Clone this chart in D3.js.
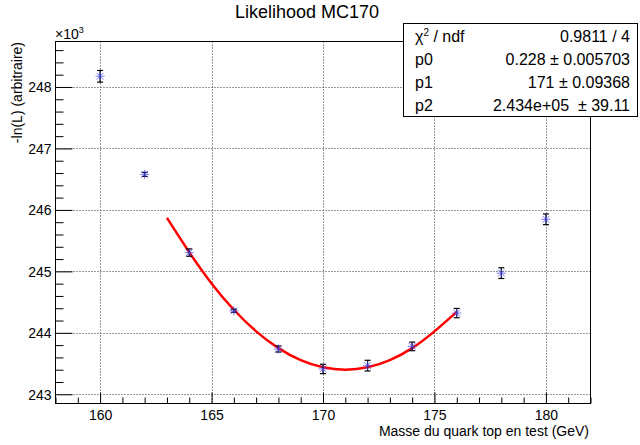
<!DOCTYPE html>
<html><head><meta charset="utf-8">
<script src="https://cdn.jsdelivr.net/npm/d3@7"></script>
<style>body{margin:0;background:#fff;}svg{display:block;font-family:"Liberation Sans",Arial,sans-serif;}</style>
</head><body>
<svg id="c" width="640" height="445"></svg>
<script>
const massX = [160, 162, 164, 166, 168, 170, 172, 174, 176, 178, 180];
const likelihoodY = [248174, 246578, 245305, 244359, 243737, 243412, 243466, 243779, 244321, 244971, 245847];
const likelihoodErr = [95, 33, 60, 25, 50, 76, 87, 70, 76, 87, 87];
const fitX = [163, 164, 165, 166, 167, 168, 169, 170, 171, 172, 173, 174, 175, 176];
const fitY = [245870, 245311, 244804, 244375, 244024, 243751, 243556, 243439, 243400, 243439, 243556, 243751, 244024, 244340];
const xTicks = [160, 165, 170, 175, 180];
const yTicks = [243000, 244000, 245000, 246000, 247000, 248000];
const statLabels = ["χ² / ndf", "p0", "p1", "p2"];
const statValues = ["0.9811 / 4", "0.228 ± 0.005703", "171 ± 0.09368", "2.434e+05  ± 39.11"];

const svg = d3.select("#c");
const L = 55.5, R = 590.5, T = 41.5, B = 403.5;
const x = d3.scaleLinear().domain([158, 182]).range([L, R]);
const y = d3.scaleLinear().domain([242850, 248740]).range([B, T]);

// grid
const g = svg.append("g");
g.selectAll(".gx").data(xTicks).join("line")
  .attr("x1", d => Math.round(x(d)) + 0.5).attr("x2", d => Math.round(x(d)) + 0.5)
  .attr("y1", T).attr("y2", B)
  .attr("stroke", "#333").attr("stroke-width", 1).attr("stroke-dasharray", "1,2");
g.selectAll(".gy").data(yTicks).join("line")
  .attr("y1", d => Math.round(y(d)) + 0.5).attr("y2", d => Math.round(y(d)) + 0.5)
  .attr("x1", L).attr("x2", R)
  .attr("stroke", "#333").attr("stroke-width", 1).attr("stroke-dasharray", "1,2");

// axes
const xAxis = d3.axisBottom(x).tickValues(d3.range(158, 183, 1))
  .tickSize(0).tickFormat("");
const ax = svg.append("g").attr("transform", `translate(0,${B})`);
ax.call(xAxis); ax.select(".domain").remove();
ax.selectAll(".tick line").remove();
ax.selectAll(".tick").append("line")
  .attr("y1", 0).attr("y2", d => xTicks.includes(d) ? -11 : -6)
  .attr("stroke", "#000");
ax.selectAll(".tick").filter(d => xTicks.includes(d)).append("text")
  .attr("y", 16).attr("fill", "#000").attr("font-size", 14).attr("text-anchor", "middle")
  .text(d => d);

const yMinor = d3.range(243000, 248800, 200);
const ay = svg.append("g").attr("transform", `translate(${L},0)`);
ay.call(d3.axisLeft(y).tickValues(yMinor).tickSize(0).tickFormat(""));
ay.select(".domain").remove();
ay.selectAll(".tick line").remove();
ay.selectAll(".tick").append("line")
  .attr("x1", 0).attr("x2", d => yTicks.includes(d) ? 17 : 8)
  .attr("stroke", "#000");
ay.selectAll(".tick").filter(d => yTicks.includes(d)).append("text")
  .attr("x", -4).attr("dy", "0.35em").attr("fill", "#000").attr("font-size", 14).attr("text-anchor", "end")
  .text(d => d / 1000);

// frame
svg.append("rect").attr("x", L).attr("y", T).attr("width", R - L).attr("height", B - T)
  .attr("fill", "none").attr("stroke", "#000").attr("stroke-width", 1);

// fit curve
svg.append("path").datum(fitX.map((d, i) => [d, fitY[i]]))
  .attr("d", d3.line().x(d => x(d[0])).y(d => y(d[1])).curve(d3.curveNatural))
  .attr("fill", "none").attr("stroke", "#ff0000").attr("stroke-width", 2.5);

// error bars
const pts = massX.map((d, i) => ({x: d, y: likelihoodY[i], e: likelihoodErr[i]}));
const eb = svg.append("g");
pts.forEach(p => {
  const cx = x(p.x), y1 = y(p.y + p.e), y2 = y(p.y - p.e);
  eb.append("line").attr("x1", cx).attr("x2", cx).attr("y1", y1).attr("y2", y2).attr("stroke", "#000").attr("stroke-width", 1.2);
  eb.append("line").attr("x1", cx - 3).attr("x2", cx + 3).attr("y1", y1).attr("y2", y1).attr("stroke", "#000").attr("stroke-width", 1.2);
  eb.append("line").attr("x1", cx - 3).attr("x2", cx + 3).attr("y1", y2).attr("y2", y2).attr("stroke", "#000").attr("stroke-width", 1.2);
});
// star markers
const mk = svg.append("g");
pts.forEach(p => {
  const cx = x(p.x), cy = y(p.y), s = 4.5;
  const segs = [[-s, 0, s, 0], [0, -s, 0, s], [-s*0.75, -s*0.75, s*0.75, s*0.75], [-s*0.75, s*0.75, s*0.75, -s*0.75]];
  segs.forEach(q => mk.append("line")
    .attr("x1", cx + q[0]).attr("y1", cy + q[1]).attr("x2", cx + q[2]).attr("y2", cy + q[3])
    .attr("stroke", "#4444ee").attr("stroke-width", 1).attr("opacity", 0.7));
});

// titles
svg.append("text").attr("x", 307).attr("y", 18).attr("text-anchor", "middle")
  .attr("font-size", 18).text("Likelihood MC170");
svg.append("text").attr("x", 589).attr("y", 436).attr("text-anchor", "end")
  .attr("font-size", 14).text("Masse du quark top en test (GeV)");
svg.append("text").attr("transform", "translate(22,42) rotate(-90)").attr("text-anchor", "end")
  .attr("font-size", 14).text("-ln(L) (arbitraire)");
const mult = svg.append("text").attr("x", 55).attr("y", 39).attr("font-size", 14);
mult.append("tspan").text("×10");
mult.append("tspan").attr("dy", -6).attr("font-size", 9).text("3");

// stat box
svg.append("rect").attr("x", 403.5).attr("y", 23.5).attr("width", 234).attr("height", 93)
  .attr("fill", "#fff").attr("stroke", "#000").attr("stroke-width", 1);
statLabels.forEach((t, i) => {
  const by = 42 + i * 23;
  const tl = svg.append("text").attr("x", 415).attr("y", by).attr("font-size", 16);
  if (i === 0) {
    tl.append("tspan").text("χ");
    tl.append("tspan").attr("dy", -6).attr("font-size", 10).text("2");
    tl.append("tspan").attr("dy", 6).text(" / ndf");
  } else tl.text(t);
  svg.append("text").attr("x", 630).attr("y", by).attr("text-anchor", "end")
    .attr("font-size", 16).attr("xml:space", "preserve").style("white-space", "pre").text(statValues[i]);
});
</script>
</body></html>
